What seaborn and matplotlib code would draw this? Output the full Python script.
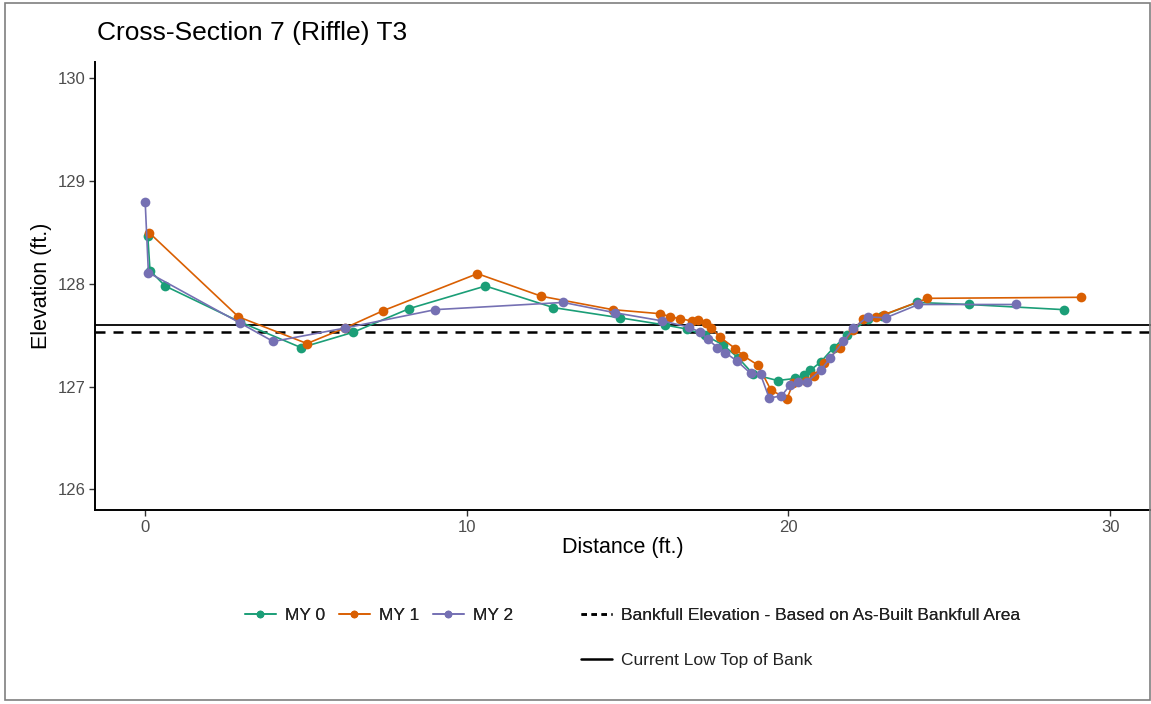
import matplotlib
matplotlib.use("Agg")
import matplotlib.pyplot as plt
from matplotlib.lines import Line2D
from matplotlib.patches import Rectangle
import seaborn as sns
import pandas as pd

# Survey profiles: station distance (ft) and ground elevation (ft)
my0_x = [0.08, 0.15, 0.62, 2.95, 4.85, 6.47, 8.21, 10.58, 12.69, 14.77, 16.17, 16.86,
         17.4, 17.95, 18.44, 18.91, 19.66, 20.2, 20.47, 20.68, 21.0, 21.4, 21.83, 22.46,
         22.9, 24.0, 25.6, 28.55]
my0_y = [128.47, 128.13, 127.98, 127.63, 127.38, 127.53, 127.76, 127.98, 127.77, 127.67,
         127.60, 127.56, 127.50, 127.41, 127.28, 127.12, 127.06, 127.08, 127.11, 127.16,
         127.24, 127.38, 127.50, 127.66, 127.69, 127.82, 127.80, 127.75]

my1_x = [0.12, 2.9, 5.03, 6.2, 7.4, 10.33, 12.32, 14.53, 16.02, 16.33, 16.64, 17.0, 17.2,
         17.42, 17.6, 17.88, 18.35, 18.6, 19.05, 19.45, 19.95, 20.15, 20.53, 20.78, 21.1,
         21.6, 22.0, 22.33, 22.71, 22.96, 24.32, 29.08]
my1_y = [128.50, 127.68, 127.42, 127.57, 127.74, 128.10, 127.88, 127.75, 127.71, 127.68,
         127.66, 127.64, 127.65, 127.62, 127.57, 127.48, 127.37, 127.30, 127.21, 126.97,
         126.88, 127.04, 127.06, 127.10, 127.23, 127.38, 127.55, 127.66, 127.68, 127.70,
         127.86, 127.87]

my2_x = [0.0, 0.1, 2.95, 3.98, 6.2, 9.02, 13.0, 14.6, 16.08, 16.9, 17.26, 17.5, 17.79,
         18.04, 18.4, 18.82, 19.13, 19.4, 19.78, 20.06, 20.3, 20.59, 21.0, 21.3, 21.71,
         22.02, 22.46, 23.02, 24.04, 27.06]
my2_y = [128.80, 128.11, 127.62, 127.44, 127.57, 127.75, 127.82, 127.72, 127.64, 127.58,
         127.53, 127.46, 127.38, 127.33, 127.25, 127.13, 127.12, 126.89, 126.91, 127.02,
         127.05, 127.05, 127.16, 127.28, 127.44, 127.57, 127.68, 127.67, 127.80, 127.80]

survey_names = ["MY 0", "MY 1", "MY 2"]
survey_colors = ["#1B9E77", "#D95F02", "#7570B3"]

bankfull_elev = 127.53
low_top_of_bank = 127.60

x_ticks = [0, 10, 20, 30]
y_ticks = [126, 127, 128, 129, 130]

title = "Cross-Section 7 (Riffle) T3"
x_label = "Distance (ft.)"
y_label = "Elevation (ft.)"
bankfull_label = "Bankfull Elevation - Based on As-Built Bankfull Area"
top_bank_label = "Current Low Top of Bank"

frames = []
for name, xs, ys in zip(survey_names, [my0_x, my1_x, my2_x], [my0_y, my1_y, my2_y]):
    frames.append(pd.DataFrame({"Distance": xs, "Elevation": ys, "Survey": name}))
df = pd.concat(frames, ignore_index=True)

sns.set_theme(style="white")
plt.rcParams["font.family"] = ["Liberation Sans", "DejaVu Sans"]

W, H = 1151, 704
fig = plt.figure(figsize=(W / 100, H / 100), dpi=100)
ax = fig.add_axes([95 / W, 1 - 510 / H, (W - 95) / W, (510 - 62) / H])

ax.axhline(low_top_of_bank, color="black", lw=1.3, zorder=1)
ax.axhline(bankfull_elev, color="black", lw=1.8, ls=(0, (4, 3.2)), zorder=1)

sns.lineplot(data=df, x="Distance", y="Elevation", hue="Survey", hue_order=survey_names,
             palette=survey_colors, sort=False, estimator=None, marker="o",
             markersize=7, markeredgewidth=0, lw=1.2, legend=False, ax=ax, zorder=3)

ax.set_xlim(-1.56, 31.27)
ax.set_ylim(125.8, 130.16)
ax.set_xticks(x_ticks)
ax.set_yticks(y_ticks)
ax.tick_params(axis="both", which="both", direction="out", length=4, width=1,
               color="#333333", labelsize=12, labelcolor="#4d4d4d", bottom=True, left=True, pad=3)
for side in ["top", "right"]:
    ax.spines[side].set_visible(False)
for side in ["left", "bottom"]:
    ax.spines[side].set_color("black")
    ax.spines[side].set_linewidth(1.4)

ax.set_xlabel(x_label, fontsize=15.5, color="black", labelpad=2)
ax.set_ylabel(y_label, fontsize=15.5, color="black", labelpad=4)
fig.text(97 / W, 1 - 33 / H, title, fontsize=19, color="black", va="center", ha="left")

# Legends below the panel
leg_kw = dict(frameon=False, fontsize=12.5, handlelength=1.8, handletextpad=0.55,
              borderpad=0.4)
survey_handles = [Line2D([0], [0], color=c, lw=1.2, marker="o", markersize=5.5, markeredgewidth=0)
                  for c in survey_colors]
leg1 = fig.legend(survey_handles, survey_names, loc="center left",
                  bbox_to_anchor=(229 / W, 1 - 615 / H), ncol=3, columnspacing=0.75, **leg_kw)
leg2 = fig.legend([Line2D([0], [0], color="black", lw=1.8, ls=(0, (2.2, 1.8)))],
                  [bankfull_label], loc="center left",
                  bbox_to_anchor=(565 / W, 1 - 615 / H), **leg_kw)
fig.add_artist(leg1)
leg3 = fig.legend([Line2D([0], [0], color="black", lw=1.8)], [top_bank_label],
                  loc="center left", bbox_to_anchor=(565 / W, 1 - 660 / H), **leg_kw)
fig.add_artist(leg2)
for lg in (leg1, leg2, leg3):
    for t in lg.get_texts():
        t.set_color("#222222")

# Outer frame around the whole figure
fig.patches.append(Rectangle((5 / W, 1 - 700 / H), 1145 / W, 697 / H,
                             transform=fig.transFigure, fill=False, edgecolor="#7f7f7f",
                             lw=1.2, zorder=10))

fig.savefig("out.png", dpi=100)
